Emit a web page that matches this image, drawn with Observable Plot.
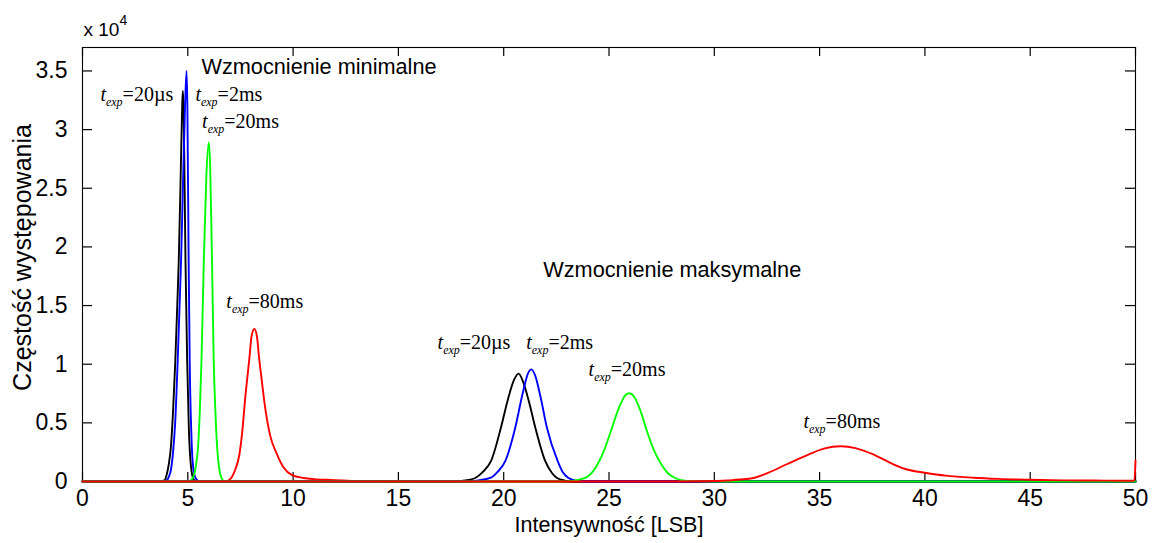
<!DOCTYPE html>
<html><head><meta charset="utf-8">
<script src="https://cdn.jsdelivr.net/npm/d3@7"></script>
<script src="https://cdn.jsdelivr.net/npm/@observablehq/plot@0.6"></script>
<style>body{margin:0;background:#fff;}</style>
</head><body><div id="chart"></div>
<script>
// Tick values
const xTicks = [0, 5, 10, 15, 20, 25, 30, 35, 40, 45, 50];
const yTicks = [0, 0.5, 1, 1.5, 2, 2.5, 3, 3.5]; // in units of 10^4

// Histogram curves: [intensity LSB, frequency x 10^4]
// Minimal gain
const minBlack20us = [[0,0],[3.6,0],[3.9,0.01],[4.0,0.06],[4.1,0.15],[4.2,0.3],[4.3,0.6],[4.4,1.0],[4.5,1.5],[4.57,1.88],[4.65,2.5],[4.72,3.1],[4.76,3.33],[4.8,3.2],[4.85,2.5],[4.89,1.88],[4.97,1.03],[5.05,0.45],[5.15,0.13],[5.27,0.02],[5.4,0],[50,0]];
const minBlue2ms = [[0,0],[3.8,0],[4.0,0.01],[4.1,0.04],[4.2,0.1],[4.3,0.25],[4.4,0.5],[4.52,1.03],[4.6,1.45],[4.68,1.88],[4.78,2.6],[4.87,3.2],[4.94,3.5],[4.98,3.2],[5.04,1.88],[5.09,1.03],[5.17,0.4],[5.27,0.1],[5.4,0.02],[5.55,0],[50,0]];
const minGreen20ms = [[0,0],[5.0,0],[5.15,0.01],[5.3,0.06],[5.4,0.15],[5.49,0.3],[5.57,0.6],[5.65,1.03],[5.76,1.88],[5.88,2.6],[6.0,2.89],[6.06,2.7],[6.15,1.88],[6.23,1.03],[6.31,0.6],[6.39,0.3],[6.5,0.1],[6.6,0.03],[6.75,0],[50,0]];
const minRed80ms = [[0,0],[6.8,0],[6.95,0.01],[7.1,0.04],[7.25,0.1],[7.45,0.23],[7.6,0.45],[7.7,0.66],[7.94,1.08],[8.02,1.23],[8.16,1.30],[8.29,1.23],[8.37,1.08],[8.5,0.88],[8.65,0.66],[8.9,0.4],[9.24,0.23],[9.55,0.12],[9.95,0.055],[10.5,0.03],[11.0,0.02],[11.8,0.013],[13,0.005],[15,0.002],[17,0],[50,0]];
// Maximal gain
const maxBlack20us = [[0,0],[17.5,0],[18.0,0.005],[18.4,0.015],[18.65,0.03],[19.0,0.08],[19.4,0.175],[19.87,0.46],[20.2,0.7],[20.5,0.87],[20.71,0.92],[20.9,0.86],[21.2,0.68],[21.5,0.46],[21.97,0.175],[22.3,0.07],[22.53,0.03],[22.9,0.008],[23.3,0],[50,0]];
const maxBlue2ms = [[0,0],[18.2,0],[18.8,0.01],[19.36,0.03],[19.7,0.08],[20.08,0.175],[20.55,0.46],[20.9,0.75],[21.15,0.92],[21.31,0.956],[21.5,0.9],[21.75,0.72],[22.05,0.46],[22.56,0.175],[22.8,0.08],[23.08,0.03],[23.4,0.008],[23.8,0],[50,0]];
const maxGreen20ms = [[0,0],[22.8,0],[23.24,0.005],[23.87,0.03],[24.46,0.147],[24.8,0.28],[25.09,0.43],[25.5,0.64],[25.8,0.74],[25.96,0.752],[26.2,0.72],[26.5,0.6],[26.8,0.43],[27.1,0.28],[27.48,0.147],[27.8,0.07],[28.14,0.03],[28.5,0.01],[29.0,0.003],[30,0],[50,0]];
const maxRed80ms = [[0,0],[28,0],[29.5,0.002],[30.6,0.008],[31.2,0.017],[31.86,0.03],[32.5,0.07],[33.44,0.147],[34.47,0.23],[35.2,0.28],[36.0,0.30],[36.7,0.285],[37.56,0.23],[38.5,0.147],[39.2,0.1],[40.0,0.075],[41.0,0.05],[42.3,0.032],[43.5,0.022],[45.0,0.015],[46.5,0.01],[48,0.008],[49.8,0.006],[49.95,0.01],[50,0.18]];

const seriesOrder = [
  {data: minBlack20us, color: "#000000"},
  {data: minBlue2ms, color: "#0000ff"},
  {data: minGreen20ms, color: "#00ff00"},
  {data: minRed80ms, color: "#ff0000"},
  {data: maxBlack20us, color: "#000000"},
  {data: maxBlue2ms, color: "#0000ff"},
  {data: maxGreen20ms, color: "#00ff00"},
  {data: maxRed80ms, color: "#ff0000"}
];

// Annotation labels (exposure times) and group titles
const expLabels = [
  {x: 0.85, y: 3.295, label: "20µs"},
  {x: 5.36, y: 3.295, label: "2ms"},
  {x: 5.68, y: 3.065, label: "20ms"},
  {x: 6.83, y: 1.53, label: "80ms"},
  {x: 16.86, y: 1.185, label: "20µs"},
  {x: 21.07, y: 1.185, label: "2ms"},
  {x: 24.03, y: 0.956, label: "20ms"},
  {x: 34.23, y: 0.507, label: "80ms"}
];
const titles = [
  {x: 5.65, y: 3.53, text: "Wzmocnienie minimalne"},
  {x: 21.88, y: 1.80, text: "Wzmocnienie maksymalne"}
];

const W = 1152, H = 543;
const mL = 82, mR = 17, mT = 47, mB = 62;
const plotW = W - mL - mR, plotH = H - mT - mB;
const sans = "'Liberation Sans', Arial, sans-serif";
const serif = "'Liberation Serif', 'Times New Roman', serif";

const marks = [
  Plot.frame({stroke: "black", strokeWidth: 1.1}),
  Plot.tickX(xTicks, {x: d => d, insetTop: plotH - 9, stroke: "black", strokeWidth: 1.2}),
  Plot.tickX(xTicks, {x: d => d, insetBottom: plotH - 9, stroke: "black", strokeWidth: 1.2}),
  Plot.tickY(yTicks, {y: d => d, insetRight: plotW - 10, stroke: "black", strokeWidth: 1.2}),
  Plot.tickY(yTicks, {y: d => d, insetLeft: plotW - 10, stroke: "black", strokeWidth: 1.2})
];
for (const s of seriesOrder) {
  marks.push(Plot.line(s.data, {x: d => d[0], y: d => d[1], stroke: s.color, strokeWidth: 1.9, curve: "monotone-x"}));
}
marks.push(
  Plot.axisX(xTicks, {tickSize: 0, tickPadding: 8, fontSize: 23, fontFamily: sans, label: null, tickFormat: d => String(d)}),
  Plot.axisY(yTicks, {tickSize: 0, tickPadding: 15, fontSize: 23, fontFamily: sans, label: null, tickFormat: d => String(d)}),
  Plot.text(["Intensywność [LSB]"], {frameAnchor: "bottom", dy: 50, fontSize: 21.5, fontFamily: sans, fill: "black"}),
  Plot.text(["Częstość występowania"], {frameAnchor: "left", textAnchor: "middle", dx: -60, dy: -7, rotate: -90, fontSize: 25, fontFamily: sans, fill: "black"}),
  Plot.text(["x 10"], {frameAnchor: "top-left", textAnchor: "start", dx: 1, dy: -25, fontSize: 19, fontFamily: sans, fill: "black"}),
  Plot.text(["4"], {frameAnchor: "top-left", textAnchor: "start", dx: 37, dy: -32, fontSize: 14, fontFamily: sans, fill: "black"}),
  Plot.text(titles, {x: "x", y: "y", text: "text", textAnchor: "start", fontSize: 21.7, fontFamily: sans, fill: "black"}),
  Plot.text(expLabels, {x: "x", y: "y", text: "label", textAnchor: "start", fontSize: 20, fontFamily: serif, fill: "black"})
);

const chart = Plot.plot({
  width: W, height: H,
  marginLeft: mL, marginRight: mR, marginTop: mT, marginBottom: mB,
  x: {domain: [0, 50]},
  y: {domain: [0, 3.7]},
  style: {background: "#fff", color: "black", fontFamily: sans},
  marks
});

// Rich formatting of "t_exp=..." labels: italic t with subscript "exp"
const labelSet = new Set(expLabels.map(d => d.label));
d3.select(chart).selectAll("text").filter(function () {
  return labelSet.has(this.textContent) && this.children.length === 0;
}).each(function () {
  const v = this.textContent;
  const t = d3.select(this);
  t.text(null);
  t.append("tspan").attr("font-style", "italic").text("t");
  t.append("tspan").attr("font-style", "italic").attr("font-size", 12).attr("dy", 5).text("exp");
  t.append("tspan").attr("dy", -5).text("=" + v);
});

document.getElementById("chart").appendChild(chart);
</script>
</body></html>
